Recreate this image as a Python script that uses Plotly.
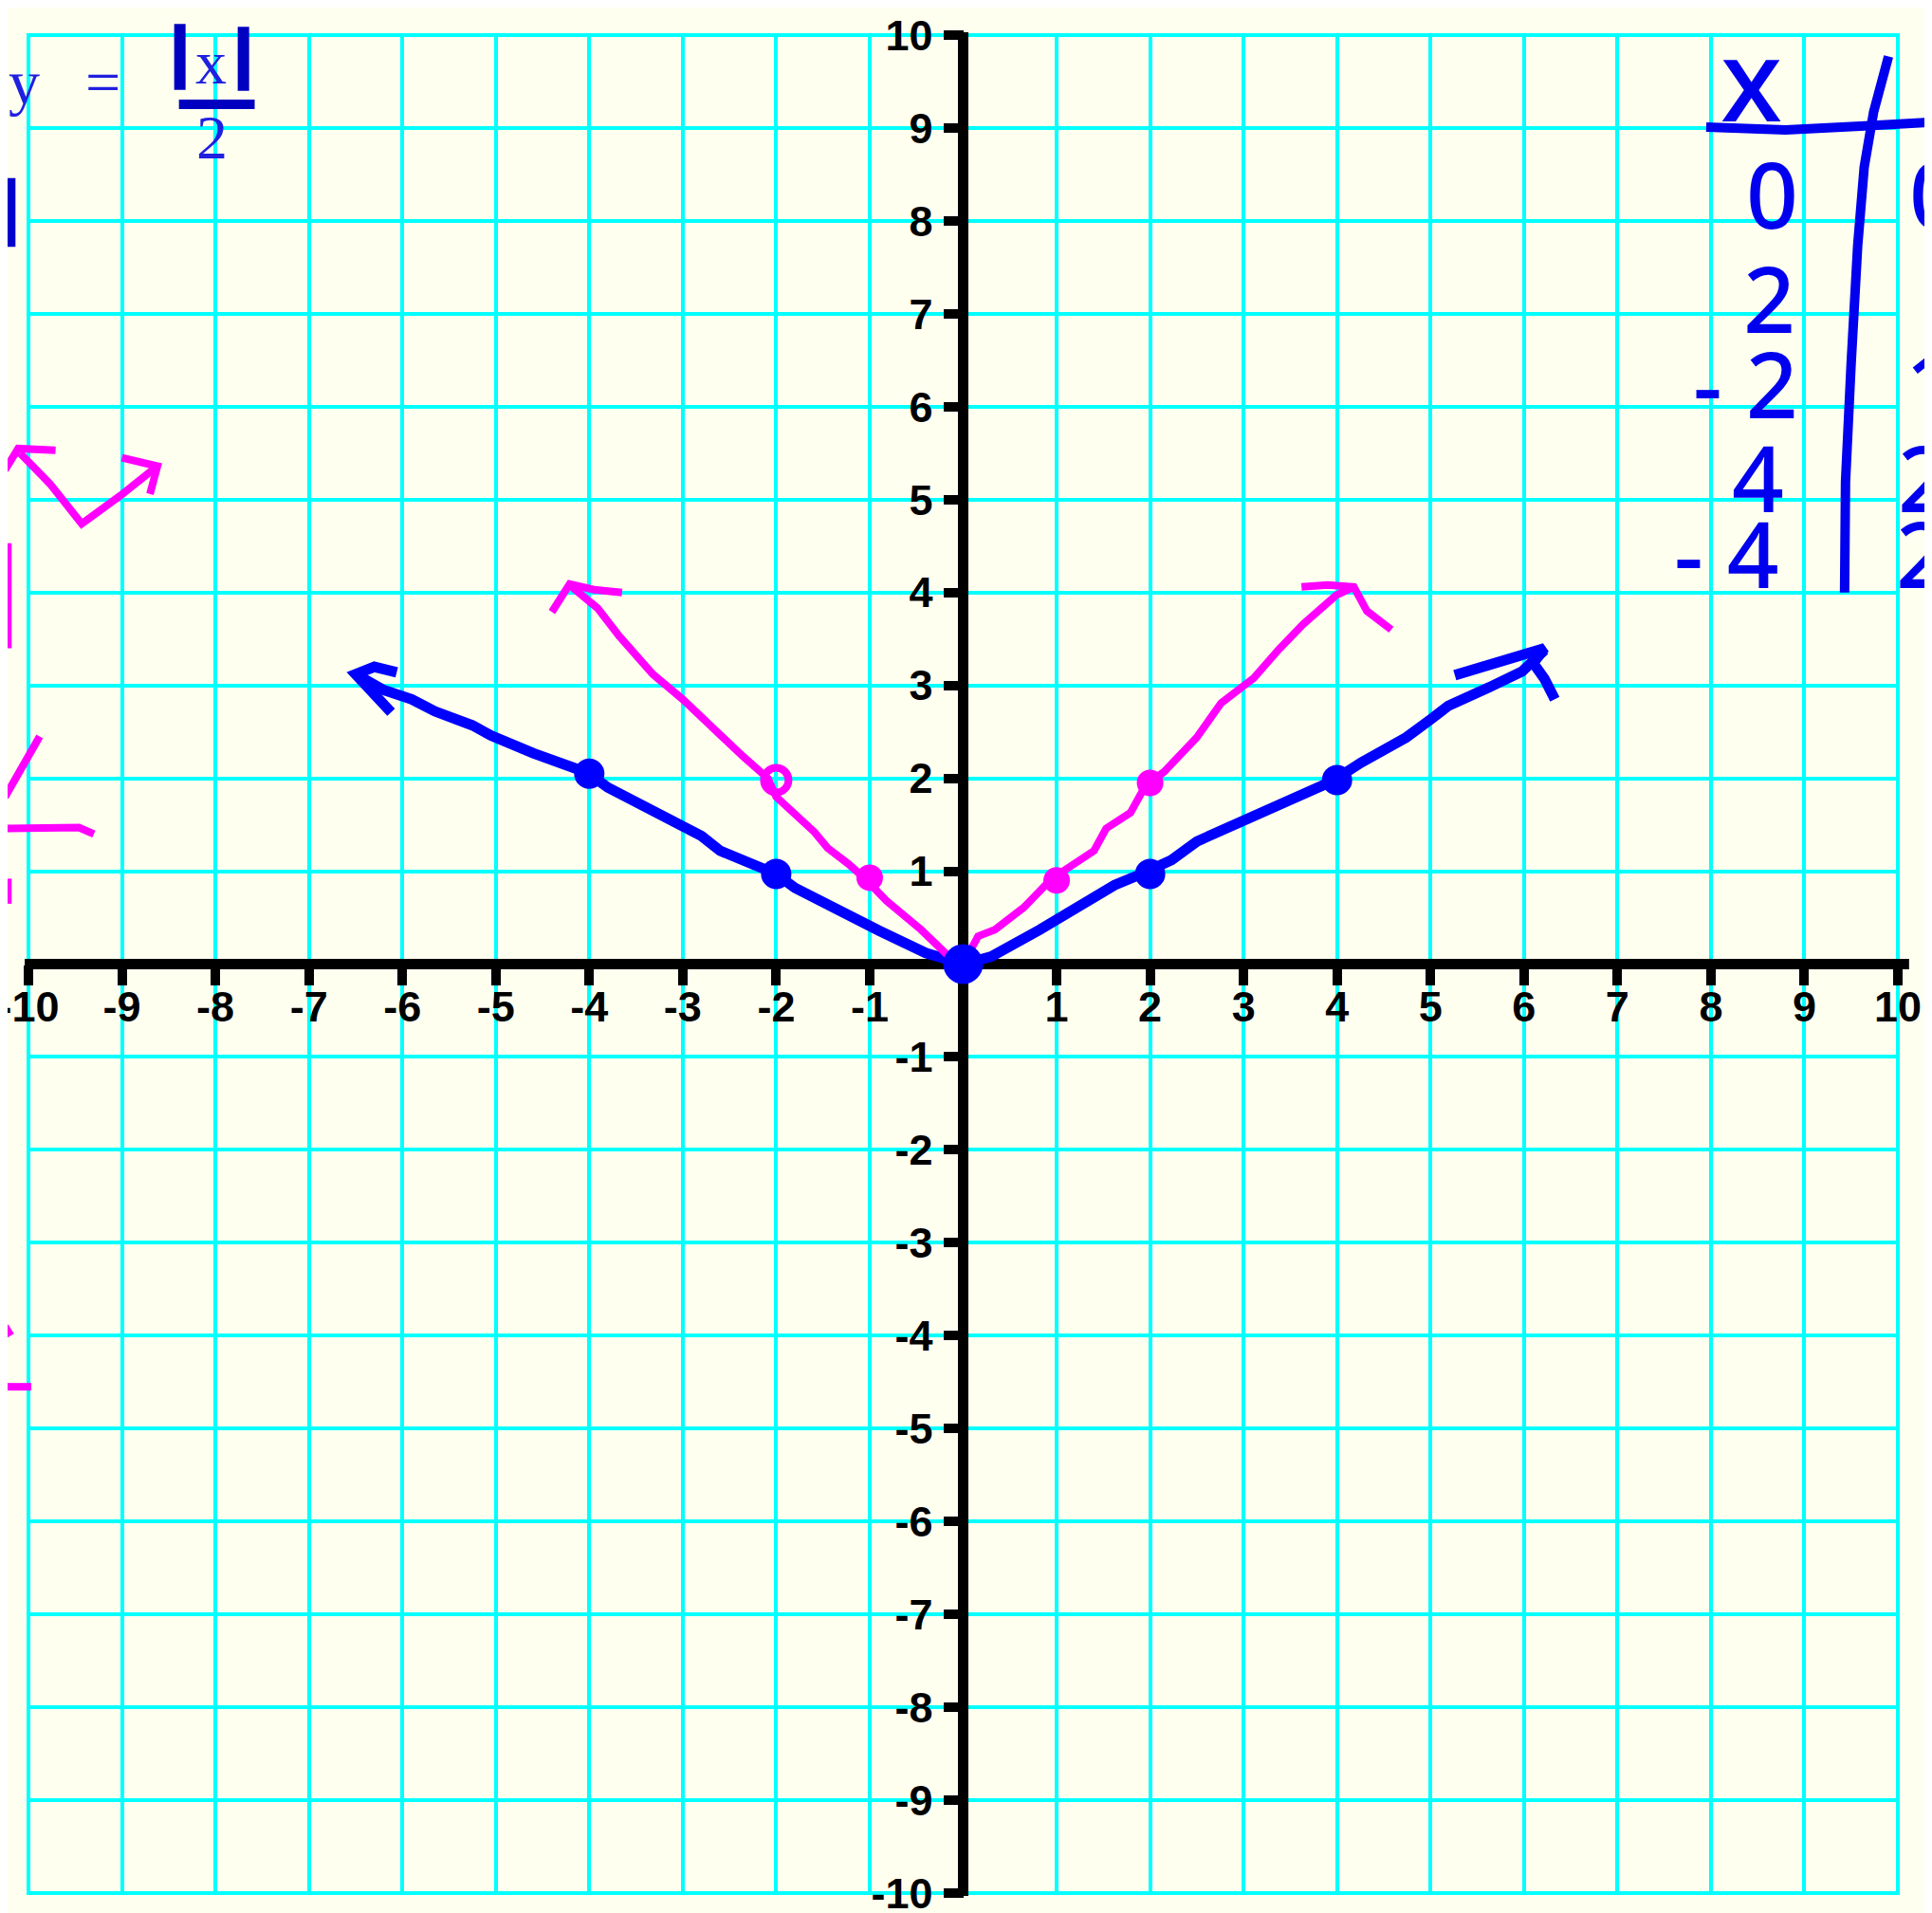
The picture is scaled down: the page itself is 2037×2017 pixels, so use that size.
import plotly.graph_objects as go

# ---------------- data ----------------
TICK_VALUES = [-10, -9, -8, -7, -6, -5, -4, -3, -2, -1, 1, 2, 3, 4, 5, 6, 7, 8, 9, 10]
TICK_LABELS = [str(v) for v in TICK_VALUES]

# blue hand-drawn graph of y = |x|/2
BLUE_LEFT_X = [-6.5, -6.2, -5.9, -5.65, -5.25, -5.05, -4.6, -4.02, -3.8, -3.25, -2.8, -2.6, -2.25, -2.0, -1.8, -1.45, -1.1, -0.9, -0.4, 0.0]
BLUE_LEFT_Y = [3.12, 2.95, 2.85, 2.72, 2.57, 2.46, 2.27, 2.06, 1.9, 1.63, 1.38, 1.22, 1.07, 0.97, 0.82, 0.64, 0.44, 0.36, 0.12, 0.0]
BLUE_LEFT_HEAD_X = [-6.06, -6.3, -6.5, -6.3, -6.12]
BLUE_LEFT_HEAD_Y = [3.14, 3.2, 3.12, 2.92, 2.71]
BLUE_RIGHT_X = [0.0, 0.3, 0.82, 1.22, 1.62, 1.93, 2.23, 2.5, 3.11, 3.51, 3.95, 4.26, 4.74, 5.01, 5.19, 5.63, 5.98, 6.22]
BLUE_RIGHT_Y = [0.0, 0.08, 0.37, 0.61, 0.85, 0.98, 1.12, 1.32, 1.59, 1.76, 1.97, 2.17, 2.44, 2.64, 2.78, 2.98, 3.15, 3.38]
BLUE_RIGHT_HEAD_X = [5.26, 5.6, 6.22, 6.1, 6.22, 6.33]
BLUE_RIGHT_HEAD_Y = [3.11, 3.22, 3.4, 3.24, 3.07, 2.85]
BLUE_PTS_X = [-4, -2, 2, 4]
BLUE_PTS_Y = [2.05, 0.97, 0.97, 1.98]
ORIGIN_X = [0]
ORIGIN_Y = [0]

# magenta hand-drawn graph of y = |x|
MAG_LEFT_X = [-4.21, -3.91, -3.68, -3.32, -3.0, -2.68, -2.36, -2.09, -2.0, -1.59, -1.45, -1.23, -1.05, -0.82, -0.45, -0.14, 0.0]
MAG_LEFT_Y = [4.08, 3.83, 3.53, 3.12, 2.85, 2.54, 2.24, 2.0, 1.80, 1.42, 1.25, 1.08, 0.92, 0.68, 0.37, 0.07, 0.0]
MAG_LEFT_HEAD_X = [-4.40, -4.3, -4.21, -3.95, -3.65]
MAG_LEFT_HEAD_Y = [3.79, 3.95, 4.09, 4.03, 4.0]
MAG_RIGHT_X = [0.0, 0.16, 0.34, 0.65, 0.91, 1.04, 1.40, 1.53, 1.79, 1.95, 2.15, 2.50, 2.76, 3.11, 3.38, 3.64, 3.99, 4.18]
MAG_RIGHT_Y = [0.0, 0.30, 0.37, 0.61, 0.88, 0.98, 1.22, 1.46, 1.63, 1.92, 2.07, 2.44, 2.81, 3.08, 3.39, 3.66, 3.97, 4.06]
MAG_RIGHT_HEAD_X = [3.62, 3.9, 4.18, 4.32, 4.58]
MAG_RIGHT_HEAD_Y = [4.06, 4.08, 4.06, 3.8, 3.6]
MAG_PTS_X = [-1, 1, 2]
MAG_PTS_Y = [0.93, 0.9, 1.95]
MAG_OPEN_X = [-2]
MAG_OPEN_Y = [1.98]

# cut-off scribbles at the left edge
FRAG_ARROW1_X = [-10.25, -10.11, -9.71]
FRAG_ARROW1_Y = [5.32, 5.55, 5.53]
FRAG_V_X = [-10.09, -9.77, -9.43, -9.02, -8.62]
FRAG_V_Y = [5.50, 5.17, 4.74, 5.04, 5.36]
FRAG_ARROW2_X = [-9.0, -8.62, -8.7]
FRAG_ARROW2_Y = [5.45, 5.36, 5.06]
FRAG_VERT_X = [-10.22, -10.22]
FRAG_VERT_Y = [4.53, 3.40]
FRAG_DIAG_X = [-10.25, -9.88]
FRAG_DIAG_Y = [1.80, 2.45]
FRAG_HORIZ_X = [-10.25, -9.46, -9.30]
FRAG_HORIZ_Y = [1.46, 1.47, 1.40]
FRAG_SMALL_X = [-10.22, -10.22]
FRAG_SMALL_Y = [0.92, 0.65]
FRAG_BOT1_X = [-10.25, -10.19]
FRAG_BOT1_Y = [-3.9, -4.0]
FRAG_BOT2_X = [-10.25, -9.97]
FRAG_BOT2_Y = [-4.55, -4.55]
FRAG_BLUE_X = [-10.21, -10.21]
FRAG_BLUE_Y = [8.46, 7.72]

# x / y table (top right)
TABLE_HEAD = ["x", "y"]
TABLE_XS = ["0", "2", "- 2", "4", "- 4"]
TABLE_YS = ["0", "1", "1", "2", "2"]
TABLE_HLINE_X = [7.95, 8.8, 9.6, 10.5]
TABLE_HLINE_Y = [9.01, 8.98, 9.02, 9.07]
TABLE_VLINE_X = [9.90, 9.74, 9.64, 9.57, 9.50, 9.44, 9.43]
TABLE_VLINE_Y = [9.77, 9.17, 8.58, 7.73, 6.46, 5.19, 4.0]

# formula y = |x| / 2
ABS_LEFT_X = [-8.38, -8.38]
ABS_LEFT_Y = [10.12, 9.41]
ABS_RIGHT_X = [-7.70, -7.70]
ABS_RIGHT_Y = [10.09, 9.40]
FRAC_X = [-8.39, -7.58]
FRAC_Y = [9.255, 9.255]

# ---------------- geometry ----------------
W, H = 2037, 2017
UX, UY = 98.55, 97.95
X_LO, X_HI = -10 - 22 / UX, 10 + 44 / UX
Y_LO, Y_HI = -10 - 29 / UY, 10 + 29 / UY
CREAM = "#FFFFF0"
CYAN = "#00FFFF"
BLUE = "#0000FF"
MAGENTA = "#FF00FF"

fig = go.Figure()


def stroke(x, y, color, width):
    fig.add_trace(go.Scatter(x=x, y=y, mode="lines", line=dict(color=color, width=width),
                             hoverinfo="skip", showlegend=False))


for sx, sy in [(BLUE_LEFT_X, BLUE_LEFT_Y), (BLUE_LEFT_HEAD_X, BLUE_LEFT_HEAD_Y),
               (BLUE_RIGHT_X, BLUE_RIGHT_Y), (BLUE_RIGHT_HEAD_X, BLUE_RIGHT_HEAD_Y)]:
    stroke(sx, sy, BLUE, 11)
for sx, sy in [(MAG_LEFT_X, MAG_LEFT_Y), (MAG_LEFT_HEAD_X, MAG_LEFT_HEAD_Y),
               (MAG_RIGHT_X, MAG_RIGHT_Y), (MAG_RIGHT_HEAD_X, MAG_RIGHT_HEAD_Y)]:
    stroke(sx, sy, MAGENTA, 8)
for sx, sy in [(FRAG_ARROW1_X, FRAG_ARROW1_Y), (FRAG_V_X, FRAG_V_Y), (FRAG_ARROW2_X, FRAG_ARROW2_Y),
               (FRAG_VERT_X, FRAG_VERT_Y), (FRAG_DIAG_X, FRAG_DIAG_Y), (FRAG_HORIZ_X, FRAG_HORIZ_Y),
               (FRAG_SMALL_X, FRAG_SMALL_Y), (FRAG_BOT1_X, FRAG_BOT1_Y), (FRAG_BOT2_X, FRAG_BOT2_Y)]:
    stroke(sx, sy, MAGENTA, 8)
stroke(FRAG_BLUE_X, FRAG_BLUE_Y, "#0000CC", 14)
stroke(TABLE_HLINE_X, TABLE_HLINE_Y, "#0000EE", 10)
stroke(TABLE_VLINE_X, TABLE_VLINE_Y, "#0000EE", 10)
stroke(ABS_LEFT_X, ABS_LEFT_Y, "#0000C0", 12)
stroke(ABS_RIGHT_X, ABS_RIGHT_Y, "#0000C0", 12)
stroke(FRAC_X, FRAC_Y, "#0000C0", 10)

fig.add_trace(go.Scatter(x=BLUE_PTS_X, y=BLUE_PTS_Y, mode="markers",
                         marker=dict(color=BLUE, size=32), hoverinfo="skip", showlegend=False))
fig.add_trace(go.Scatter(x=MAG_PTS_X, y=MAG_PTS_Y, mode="markers",
                         marker=dict(color=MAGENTA, size=28), hoverinfo="skip", showlegend=False))
fig.add_trace(go.Scatter(x=MAG_OPEN_X, y=MAG_OPEN_Y, mode="markers",
                         marker=dict(symbol="circle-open", color=MAGENTA, size=26, line=dict(width=8)),
                         hoverinfo="skip", showlegend=False))
fig.add_trace(go.Scatter(x=ORIGIN_X, y=ORIGIN_Y, mode="markers",
                         marker=dict(color=BLUE, size=42), hoverinfo="skip", showlegend=False))

# masks so the grid stops at the +-10 box, then the two axis lines
gx = 2 / UX
gy = 2 / UY
for x0, x1, y0, y1 in [(X_LO - 1, -10 - gx, Y_LO - 1, Y_HI + 1), (10 + gx, X_HI + 1, Y_LO - 1, Y_HI + 1),
                       (X_LO - 1, X_HI + 1, 10 + gy, Y_HI + 1), (X_LO - 1, X_HI + 1, Y_LO - 1, -10 - gy)]:
    fig.add_shape(type="rect", xref="x", yref="y", x0=x0, x1=x1, y0=y0, y1=y1,
                  fillcolor=CREAM, line=dict(width=0), layer="between")
fig.add_shape(type="line", xref="x", yref="y", x0=-10.04, x1=10.12, y0=0, y1=0,
              line=dict(color="black", width=11), layer="between")
fig.add_shape(type="line", xref="x", yref="y", x0=0, x1=0, y0=-10.03, y1=10.03,
              line=dict(color="black", width=11), layer="between")

# formula text
FORM_FONT = dict(family="Liberation Serif", size=66, color="#2020E0")
for txt, ax_, ay_ in [("y", -10.05, 9.49), ("=", -9.2, 9.49), ("x", -8.05, 9.71), ("2", -8.04, 8.90)]:
    fig.add_annotation(x=ax_, y=ay_, xref="x", yref="y", text=txt, showarrow=False,
                       xanchor="center", yanchor="middle", font=FORM_FONT)

# table text
TAB_FONT = dict(family="Noto Sans", size=96, color="#0000EE", weight=500)
HEAD_FONT = dict(family="Noto Sans", size=120, color="#0000EE", weight=500)
ROW_Y = [8.30, 7.18, 6.26, 5.25, 4.43]
LEFT_COL_X = [8.66, 8.63, 8.37, 8.5, 8.17]
RIGHT_COL_X = [10.40, 10.45, 10.36, 10.28, 10.26]
fig.add_annotation(x=8.43, y=9.55, text=TABLE_HEAD[0], showarrow=False, xanchor="center",
                   yanchor="middle", font=HEAD_FONT)
fig.add_annotation(x=10.5, y=9.62, text=TABLE_HEAD[1], showarrow=False, xanchor="center",
                   yanchor="middle", font=HEAD_FONT)
for i in range(len(TABLE_XS)):
    fig.add_annotation(x=LEFT_COL_X[i], y=ROW_Y[i], text=TABLE_XS[i], showarrow=False,
                       xanchor="center", yanchor="middle", font=TAB_FONT)
    fig.add_annotation(x=RIGHT_COL_X[i], y=ROW_Y[i], text=TABLE_YS[i], showarrow=False,
                       xanchor="center", yanchor="middle", font=TAB_FONT)

TICK_FONT = dict(family="Liberation Sans", size=45, color="black", weight="bold")
common = dict(tickvals=TICK_VALUES, ticktext=TICK_LABELS, showgrid=True, gridcolor=CYAN, gridwidth=4,
              zeroline=False, showline=False, ticks="outside", ticklen=21, tickwidth=10,
              tickcolor="black", tickfont=TICK_FONT, anchor="free", fixedrange=True,
              ticklabeloverflow="allow", automargin=False)

fig.update_layout(
    width=W, height=H, autosize=False,
    margin=dict(l=0, r=0, t=0, b=0, pad=0, autoexpand=False),
    paper_bgcolor=CREAM, plot_bgcolor=CREAM,
    showlegend=False,
    xaxis=dict(range=[X_LO, X_HI], position=(0 - Y_LO) / (Y_HI - Y_LO), side="bottom",
               ticklabelstandoff=-16, **common),
    yaxis=dict(range=[Y_LO, Y_HI], position=(0 - X_LO) / (X_HI - X_LO), side="left",
               ticklabelstandoff=2, **common),
)

fig.write_html("out.html", config={"displayModeBar": False})
